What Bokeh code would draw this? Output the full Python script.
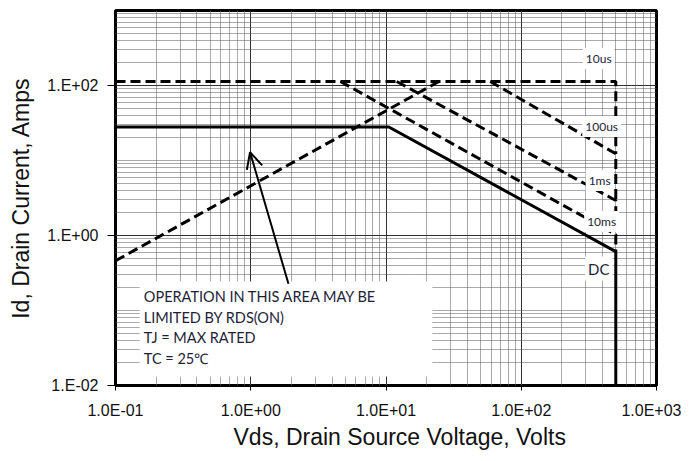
from bokeh.plotting import figure
from bokeh.models import Range1d, FixedTicker, Label, Arrow, OpenHead, BoxAnnotation, Title
from bokeh.embed import file_html
from bokeh.resources import INLINE

# ---------------- data ----------------
x_ticks = [0.1, 1.0, 10.0, 100.0, 1000.0]
x_tick_labels = ["1.0E-01", "1.0E+00", "1.0E+01", "1.0E+02", "1.0E+03"]
y_ticks = [0.01, 1.0, 100.0]
y_tick_labels = ["1.E-02", "1.E+00", "1.E+02"]

# RDS(on) limit line
rds_vds = [0.1, 24.6]
rds_id = [0.46, 113.0]

# pulse curves (Vds in V, Id in A)
us10_vds = [0.1, 500.0, 500.0]
us10_id = [113.0, 113.0, 12.3]
us100_vds = [59.0, 500.0, 500.0]
us100_id = [113.0, 12.3, 2.93]
ms1_vds = [12.0, 500.0, 500.0]
ms1_id = [113.0, 2.93, 1.03]
ms10_vds = [4.6, 500.0, 500.0]
ms10_id = [113.0, 1.03, 0.61]
dc_vds = [0.1, 10.5, 500.0, 500.0]
dc_id = [28.0, 28.0, 0.61, 0.01]

curve_names = ["10us", "100us", "1ms", "10ms", "DC"]
curve_label_vds = [374.0, 393.0, 380.0, 393.0, 374.0]
curve_label_id = [229.0, 28.4, 5.41, 1.54, 0.363]

note_lines = ["OPERATION IN THIS AREA MAY BE", "LIMITED BY RDS(ON)",
              "TJ = MAX RATED", "TC = 25\u2103"]

x_title = "Vds, Drain Source Voltage, Volts"
y_title = "Id, Drain Current, Amps"

# ---------------- figure ----------------
p = figure(frame_width=541, frame_height=375, x_axis_type="log", y_axis_type="log",
           x_range=Range1d(0.1, 1000), y_range=Range1d(0.01, 1000),
           output_backend="svg", toolbar_location=None,
           min_border_left=115, min_border_right=25,
           min_border_top=10, min_border_bottom=68)
p.outline_line_color = "black"
p.outline_line_width = 3
p.background_fill_color = "white"
p.border_fill_color = "white"

x_minor = [m * 10.0 ** k for k in range(-1, 3) for m in range(2, 10)]
y_minor = [m * 10.0 ** k for k in range(-2, 3) for m in range(2, 10)] + [0.1, 10.0]

p.xaxis.ticker = FixedTicker(ticks=x_ticks, minor_ticks=x_minor)
p.yaxis.ticker = FixedTicker(ticks=y_ticks, minor_ticks=y_minor)
p.xaxis.major_label_overrides = dict(zip(x_ticks, x_tick_labels))
p.yaxis.major_label_overrides = dict(zip(y_ticks, y_tick_labels))

for ax in (p.xaxis, p.yaxis):
    ax.axis_line_color = None
    ax.minor_tick_line_color = None
    ax.major_tick_in = 0
    ax.major_tick_line_color = "black"
    ax.major_label_text_font = "Liberation Sans"
    ax.major_label_text_font_size = "16px"
    ax.major_label_text_color = "#111111"
    ax.axis_label_text_font = "Liberation Sans"
    ax.axis_label_text_font_size = "23px"
    ax.axis_label_text_font_style = "normal"
    ax.axis_label_text_color = "#111111"

p.xaxis.major_tick_out = 5
p.xaxis.major_label_standoff = 11
p.yaxis.major_tick_out = 8
p.yaxis.major_label_standoff = 9
p.yaxis.axis_label = y_title
p.yaxis.axis_label_standoff = 10

# x title placed slightly right of the frame centre, as in the reference
p.add_layout(Title(text=x_title, align="left", offset=118, standoff=0,
                   text_font="Liberation Sans", text_font_size="23px",
                   text_font_style="normal", text_color="#111111"), "below")

for g in (p.xgrid, p.ygrid):
    g.grid_line_color = "#333333"
    g.grid_line_width = 1
    g.minor_grid_line_color = "#555555"
    g.minor_grid_line_width = 1
    g.minor_grid_line_dash = "1 1"

# white area behind the note (hides the grid)
p.add_layout(BoxAnnotation(left=0.151, right=22.0, bottom=0.0132, top=0.244,
                           fill_color="white", fill_alpha=1.0, line_color=None,
                           level="underlay"))

dash = "10 5"
p.line(rds_vds, rds_id, line_color="black", line_width=3, line_dash=dash)
p.line(us10_vds, us10_id, line_color="black", line_width=3, line_dash=dash)
p.line(us100_vds, us100_id, line_color="black", line_width=3, line_dash=dash)
p.line(ms1_vds, ms1_id, line_color="black", line_width=3, line_dash=dash)
p.line(ms10_vds, ms10_id, line_color="black", line_width=3, line_dash=dash)
p.line(dc_vds, dc_id, line_color="black", line_width=3)

for name, xv, yv in zip(curve_names, curve_label_vds, curve_label_id):
    p.add_layout(Label(x=xv, y=yv, text=name, text_align="center",
                       text_baseline="middle", text_font="Lato",
                       text_font_size="15px" if name == "DC" else "12px",
                       text_color="#1e1e38", background_fill_color="white",
                       padding=3))

note_y = [0.154, 0.0807, 0.0437, 0.0229]
for line, yv in zip(note_lines, note_y):
    p.add_layout(Label(x=0.162, y=yv, text=line, text_align="left",
                       text_baseline="middle", text_font="Lato",
                       text_font_size="14.5px", text_color="#1e1e38"))

p.add_layout(Arrow(end=OpenHead(size=16, line_width=2, line_color="black"),
                   x_start=1.9, y_start=0.227, x_end=0.988, y_end=12.9,
                   line_width=2, line_color="black"))

open("out.html", "w").write(file_html(p, INLINE))
